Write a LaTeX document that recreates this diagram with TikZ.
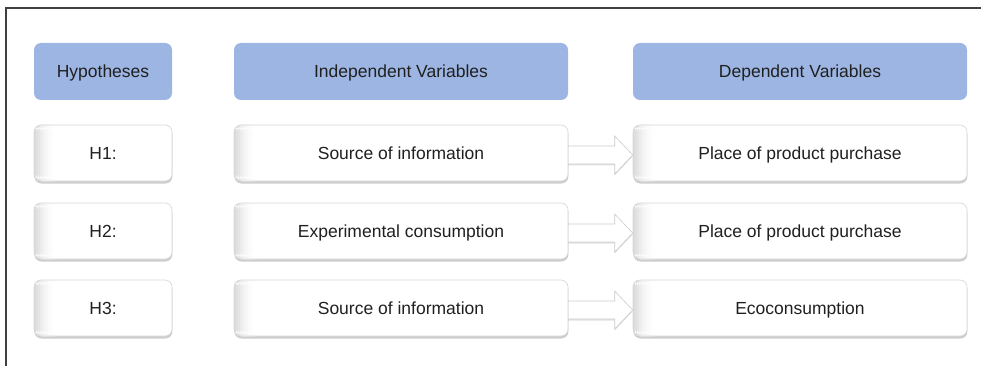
\documentclass[tikz,border=0pt]{standalone}
\usepackage{fontspec}
\setmainfont{Liberation Sans}
\usetikzlibrary{shadows,backgrounds}

\definecolor{hdrblue}{RGB}{157,181,226}
\definecolor{txtgray}{RGB}{32,32,32}

\tikzset{
  every node/.style={inner sep=0pt, text=txtgray, text height=12.5pt, text depth=0pt,
    font=\fontsize{17.5}{20}\selectfont},
  hdrbox/.style={fill=hdrblue, rounded corners=7pt, minimum height=57pt},
  cellbox/.style={fill=white, draw=black!16, line width=0.6pt, rounded corners=7pt,
    minimum height=56pt,
    drop shadow={shadow xshift=0.4pt, shadow yshift=-2.5pt, opacity=0.28, fill=black!70},
    path picture={
      % soft grey edge on the left
      \foreach \i/\k in {0/14,2/12,4/10,6/8,8/6,10/4.5,12/3,14/2,16/1}
        \fill[black!\k]
          ([xshift=\i pt]path picture bounding box.south west) rectangle
          ([xshift=\i pt+2.3pt]path picture bounding box.north west);
    }},
  linkarrow/.style={fill=white, draw=black!20, line width=0.6pt, line join=miter,
    drop shadow={shadow xshift=0pt, shadow yshift=-1.5pt, opacity=0.2, fill=black!60}},
}

% block arrow from the right side of #1 to the left side of #2
\newcommand{\hyplink}[2]{%
  \path[linkarrow]
    ([shift={(-4,-7)}]#1.east) -- ([shift={(-18,-7)}]#2.west)
    -- ([shift={(-18,-17)}]#2.west) -- ([shift={(0,2)}]#2.west)
    -- ([shift={(-18,21)}]#2.west) -- ([shift={(-18,11)}]#2.west)
    -- ([shift={(-4,11)}]#1.east) -- cycle;
}

\begin{document}
\begin{tikzpicture}[x=1pt,y=-1pt]
\useasboundingbox (0,0) rectangle (981,366);

% frame
\draw [black!75, line width=1.4pt] (6,366) -- (6,8) -- (981,8);

% column heads
\node [hdrbox, minimum width=138pt] (hyp) at (103,71.5) {Hypotheses};
\node [hdrbox, minimum width=334pt] (indep) at (401,71.5) {Independent Variables};
\node [hdrbox, minimum width=334pt] (dep) at (800,71.5) {Dependent Variables};

% H1
\node [cellbox, minimum width=138pt] (h1) at (103,153) {H1:};
\node [cellbox, minimum width=334pt] (iv1) at (401,153) {Source of information};
\node [cellbox, minimum width=334pt] (dv1) at (800,153) {Place of product purchase};

% H2
\node [cellbox, minimum width=138pt] (h2) at (103,231) {H2:};
\node [cellbox, minimum width=334pt] (iv2) at (401,231) {Experimental consumption};
\node [cellbox, minimum width=334pt] (dv2) at (800,231) {Place of product purchase};

% H3
\node [cellbox, minimum width=138pt] (h3) at (103,308) {H3:};
\node [cellbox, minimum width=334pt] (iv3) at (401,308) {Source of information};
\node [cellbox, minimum width=334pt] (dv3) at (800,308) {Ecoconsumption};

% arrows sit behind the boxes
\begin{scope}[on background layer]
\hyplink{iv1}{dv1}
\hyplink{iv2}{dv2}
\hyplink{iv3}{dv3}
\end{scope}
\end{tikzpicture}
\end{document}
